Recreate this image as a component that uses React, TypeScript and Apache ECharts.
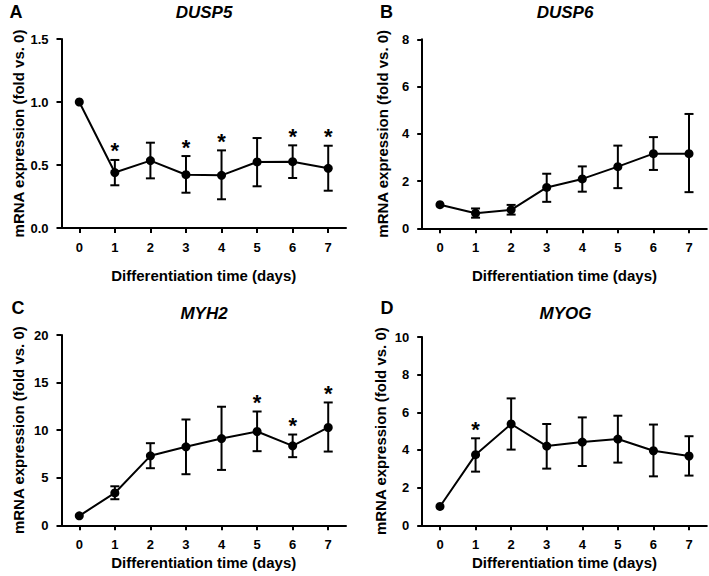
import React, { useEffect, useRef } from "react";
import * as echarts from "echarts";

const days = ["0", "1", "2", "3", "4", "5", "6", "7"];

const dusp5Mean = [1.0, 0.44, 0.535, 0.423, 0.418, 0.524, 0.526, 0.474];
const dusp5Upper = [null, 0.54, 0.677, 0.571, 0.616, 0.714, 0.656, 0.653];
const dusp5Lower = [null, 0.339, 0.394, 0.28, 0.228, 0.331, 0.397, 0.296];
const dusp5Sig = [1, 3, 4, 6, 7];
const dusp5Ticks = [0, 0.5, 1.0, 1.5];

const dusp6Mean = [1.0, 0.64, 0.78, 1.73, 2.09, 2.61, 3.16, 3.16];
const dusp6Upper = [null, 0.84, 0.99, 2.31, 2.62, 3.5, 3.86, 4.84];
const dusp6Lower = [null, 0.45, 0.58, 1.12, 1.55, 1.7, 2.47, 1.53];
const dusp6Sig: number[] = [];
const dusp6Ticks = [0, 2, 4, 6, 8];

const myh2Mean = [1.0, 3.4, 7.3, 8.25, 9.12, 9.86, 8.35, 10.28];
const myh2Upper = [null, 4.1, 8.63, 11.12, 12.46, 11.96, 9.54, 12.91];
const myh2Lower = [null, 2.74, 6.0, 5.37, 5.82, 7.79, 7.16, 7.75];
const myh2Sig = [5, 6, 7];
const myh2Ticks = [0, 5, 10, 15, 20];

const myogMean = [1.0, 3.75, 5.38, 4.21, 4.42, 4.58, 3.96, 3.68];
const myogUpper = [null, 4.62, 6.74, 5.38, 5.73, 5.82, 5.35, 4.73];
const myogLower = [null, 2.85, 4.02, 3.01, 3.15, 3.33, 2.6, 2.64];
const myogSig = [1];
const myogTicks = [0, 2, 4, 6, 8, 10];

const FONT = "Liberation Sans, Arial, Helvetica, sans-serif";

type Panel = {
  letter: string;
  gene: string;
  mean: number[];
  upper: (number | null)[];
  lower: (number | null)[];
  sig: number[];
  ticks: number[];
  decimals: number;
  grid: { left: number; top: number; width: number; height: number };
  yNameGap: number;
  xNameGap: number;
  titleX: number;
  titleY: number;
  letterX: number;
  letterY: number;
};

const panels: Panel[] = [
  {
    letter: "A", gene: "DUSP5", mean: dusp5Mean, upper: dusp5Upper, lower: dusp5Lower, sig: dusp5Sig,
    ticks: dusp5Ticks, decimals: 1,
    grid: { left: 61.5, top: 39, width: 284.5, height: 189 },
    yNameGap: 36, xNameGap: 39.5, titleX: 204, titleY: 12, letterX: 16, letterY: 12,
  },
  {
    letter: "B", gene: "DUSP6", mean: dusp6Mean, upper: dusp6Upper, lower: dusp6Lower, sig: dusp6Sig,
    ticks: dusp6Ticks, decimals: 0,
    grid: { left: 422.2, top: 39.3, width: 284.6, height: 189 },
    yNameGap: 32, xNameGap: 39.5, titleX: 565, titleY: 12, letterX: 386.5, letterY: 12,
  },
  {
    letter: "C", gene: "MYH2", mean: myh2Mean, upper: myh2Upper, lower: myh2Lower, sig: myh2Sig,
    ticks: myh2Ticks, decimals: 0,
    grid: { left: 61.5, top: 335, width: 284.5, height: 190.3 },
    yNameGap: 36, xNameGap: 30, titleX: 204, titleY: 313.5, letterX: 18, letterY: 308,
  },
  {
    letter: "D", gene: "MYOG", mean: myogMean, upper: myogUpper, lower: myogLower, sig: myogSig,
    ticks: myogTicks, decimals: 0,
    grid: { left: 422.2, top: 337, width: 284.6, height: 188.3 },
    yNameGap: 34, xNameGap: 30, titleX: 565.5, titleY: 313.5, letterX: 387, letterY: 308,
  },
];

function buildOption() {
  const grid: any[] = [];
  const xAxis: any[] = [];
  const yAxis: any[] = [];
  const series: any[] = [];
  const graphic: any[] = [];

  panels.forEach((p, i) => {
    grid.push({ ...p.grid, containLabel: false });
    xAxis.push({
      type: "category",
      gridIndex: i,
      data: days,
      boundaryGap: true,
      name: "Differentiation time (days)",
      nameLocation: "middle",
      nameGap: p.xNameGap,
      nameTextStyle: { fontFamily: FONT, fontWeight: "bold", fontSize: 15, color: "#000" },
      axisLine: { show: true, lineStyle: { color: "#000", width: 2 } },
      axisTick: { show: true, alignWithLabel: true, length: 5, lineStyle: { color: "#000", width: 2 } },
      axisLabel: { margin: 13, fontFamily: FONT, fontWeight: "bold", fontSize: 13, color: "#000" },
      splitLine: { show: false },
    });
    const tmin = p.ticks[0];
    const tmax = p.ticks[p.ticks.length - 1];
    yAxis.push({
      type: "value",
      gridIndex: i,
      min: tmin,
      max: tmax,
      interval: p.ticks[1] - p.ticks[0],
      name: "mRNA expression (fold vs. 0)",
      nameLocation: "middle",
      nameGap: p.yNameGap,
      nameTextStyle: { fontFamily: FONT, fontWeight: "bold", fontSize: 15, color: "#000" },
      axisLine: { show: true, lineStyle: { color: "#000", width: 2 } },
      axisTick: { show: true, length: 5, lineStyle: { color: "#000", width: 2 } },
      axisLabel: {
        margin: 13,
        fontFamily: FONT,
        fontWeight: "bold",
        fontSize: 13,
        color: "#000",
        formatter: (v: number) => v.toFixed(p.decimals),
      },
      splitLine: { show: false },
    });

    const errData = p.mean
      .map((_, k) => [k, p.lower[k], p.upper[k]])
      .filter((d) => d[1] != null && d[2] != null);

    series.push({
      type: "custom",
      xAxisIndex: i,
      yAxisIndex: i,
      z: 2,
      encode: { x: 0, y: [1, 2] },
      data: errData,
      renderItem: (params: any, api: any) => {
        const x = api.value(0);
        const lo = api.coord([x, api.value(1)]);
        const hi = api.coord([x, api.value(2)]);
        const hw = 4.5;
        const st = { stroke: "#000", lineWidth: 2 };
        return {
          type: "group",
          children: [
            { type: "line", shape: { x1: hi[0], y1: hi[1], x2: lo[0], y2: lo[1] }, style: st },
            { type: "line", shape: { x1: hi[0] - hw, y1: hi[1], x2: hi[0] + hw, y2: hi[1] }, style: st },
            { type: "line", shape: { x1: lo[0] - hw, y1: lo[1], x2: lo[0] + hw, y2: lo[1] }, style: st },
          ],
        };
      },
    });

    series.push({
      type: "line",
      xAxisIndex: i,
      yAxisIndex: i,
      z: 3,
      data: p.mean,
      symbol: "circle",
      symbolSize: 9,
      itemStyle: { color: "#000" },
      lineStyle: { color: "#000", width: 2 },
    });

    series.push({
      type: "custom",
      xAxisIndex: i,
      yAxisIndex: i,
      z: 4,
      encode: { x: 0, y: 1 },
      data: p.sig.map((k) => [k, p.upper[k] as number]),
      renderItem: (params: any, api: any) => {
        const pt = api.coord([api.value(0), api.value(1)]);
        return {
          type: "text",
          x: pt[0],
          y: pt[1] - 9,
          style: {
            text: "*",
            font: `bold 22px ${FONT}`,
            align: "center",
            verticalAlign: "middle",
            fill: "#000",
          },
        };
      },
    });

    graphic.push({
      type: "text",
      x: p.titleX,
      y: p.titleY,
      style: {
        text: p.gene,
        font: `italic bold 17px ${FONT}`,
        align: "center",
        verticalAlign: "middle",
        fill: "#000",
      },
    });
    graphic.push({
      type: "text",
      x: p.letterX,
      y: p.letterY,
      style: {
        text: p.letter,
        font: `bold 18px ${FONT}`,
        align: "center",
        verticalAlign: "middle",
        fill: "#000",
      },
    });
  });

  return {
    animation: false,
    backgroundColor: "#fff",
    textStyle: { fontFamily: FONT },
    grid,
    xAxis,
    yAxis,
    series,
    graphic,
  };
}

export default function App() {
  const ref = useRef<HTMLDivElement>(null);
  useEffect(() => {
    if (!ref.current) return;
    const chart = echarts.init(ref.current, undefined, { renderer: "svg" });
    chart.setOption(buildOption() as any);
    return () => chart.dispose();
  }, []);
  return (
    <div
      ref={ref}
      style={{ position: "absolute", left: 0, top: 0, width: 709, height: 576, background: "#fff" }}
    />
  );
}
